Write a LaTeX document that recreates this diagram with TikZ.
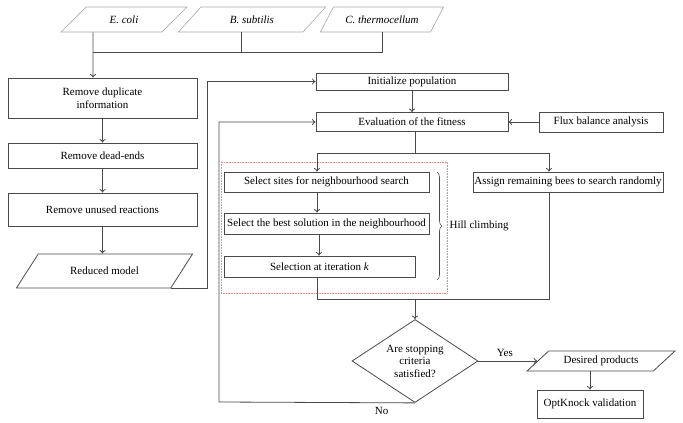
\documentclass[tikz,border=0pt]{standalone}
\usepackage{fontspec}
\setmainfont{Liberation Serif}
\usetikzlibrary{shapes.geometric,arrows.meta,decorations.pathreplacing}

\definecolor{linegray}{HTML}{4A4A4A}
\definecolor{lightline}{HTML}{A8A8A8}
\definecolor{dotred}{HTML}{E88A8A}

\tikzset{
  box/.style={draw=linegray, line width=0.8pt, rectangle, inner sep=1pt, align=center},
  datain/.style={draw=lightline, line width=0.6pt, trapezium, trapezium stretches=true,
    trapezium left angle=44, trapezium right angle=136, inner sep=1pt},
  dataout/.style={draw=linegray, line width=0.8pt, trapezium, trapezium stretches=true, inner sep=1pt},
  flow/.style={draw=linegray, line width=0.8pt, -{To[length=3.5pt,width=6pt]}},
  link/.style={draw=linegray, line width=0.8pt},
}

\begin{document}
\begin{tikzpicture}[x=1pt, y=-1pt, font=\fontsize{11pt}{12.5pt}\selectfont]
\useasboundingbox (0,0) rectangle (683,423);

% input organisms
\node[datain, minimum width=126pt, minimum height=25pt] (ecoli) at (124,19.5) {\textit{E. coli}};
\node[datain, minimum width=148pt, minimum height=25pt] (bsub) at (252,19.5) {\textit{B. subtilis}};
\node[datain, minimum width=124pt, minimum height=25pt] (cthermo) at (382,19.5) {\textit{C. thermocellum}};
\coordinate (trunk) at (93,52);

% model reduction
\node[box, minimum width=189pt, minimum height=40pt] (dup) at (102.5,98) {Remove duplicate\\information};
\node[box, minimum width=189pt, minimum height=25pt] (dead) at (102.5,155.5) {Remove dead-ends};
\node[box, minimum width=189pt, minimum height=33pt] (unused) at (102.5,209.5) {Remove unused reactions};
\node[dataout, minimum width=177pt, minimum height=34pt, trapezium left angle=40,
  trapezium right angle=140] (reduced) at (104.5,271) {Reduced model};

% bees algorithm
\node[box, minimum width=192pt, minimum height=17pt] (init) at (412,81.5) {Initialize population};
\node[box, minimum width=192pt, minimum height=19pt] (eval) at (412,122) {Evaluation of the fitness};
\node[box, minimum width=124pt, minimum height=20pt] (flux) at (601,122) {Flux balance analysis};
\node[box, minimum width=205pt, minimum height=20pt] (sites) at (326.5,182) {Select sites for neighbourhood search};
\node[box, minimum width=205pt, minimum height=21pt] (best) at (326.5,223.5) {Select the best solution in the neighbourhood};
\node[box, minimum width=191pt, minimum height=21pt] (seliter) at (319.5,266.5) {Selection at iteration \textit{k}};
\node[box, minimum width=190pt, minimum height=20pt] (assign) at (568,182) {Assign remaining bees to search randomly};
\node[diamond, draw=linegray, line width=0.8pt, aspect=1.5, inner sep=0pt, align=center,
  minimum width=126pt, minimum height=83pt] (check) at (415,361) {Are stopping\\criteria\\satisfied?};
\node[dataout, minimum width=148pt, minimum height=20pt, trapezium left angle=37,
  trapezium right angle=143] (desired) at (601,361) {Desired products};
\node[box, minimum width=106pt, minimum height=28pt] (optk) at (590,404) {OptKnock validation};

\coordinate (lane) at (317,153);
\coordinate (rlane) at (549,153);
\coordinate (merge) at (415,299);
\coordinate (back) at (219,402);
\coordinate (upline) at (207,0);

\draw[densely dotted, dotred, line width=0.6pt] (221,162) rectangle (447,293);

\draw[link] ([xshift=-11pt]bsub.south) |- (trunk);
\draw[link] (cthermo.south) |- (trunk);
\draw[flow] ([xshift=-31pt]ecoli.south) -- (dup.north -| trunk);
\draw[flow] (dup) -- (dead);
\draw[flow] (dead) -- (unused);
\draw[flow] (unused.south) -- (unused.south |- reduced.north);
\draw[flow] (reduced.bottom right corner) -- (reduced.bottom right corner -| upline) |- (init.west);
\draw[flow] (init) -- (eval);
\draw[flow] (flux) -- (eval);
\draw[link] (eval.south -| merge) |- (lane);
\draw[flow] (lane) -- (lane |- sites.north);
\draw[flow] (eval.south -| merge) |- (rlane) -- (rlane |- assign.north);
\draw[flow] (lane |- sites.south) -- (lane |- best.north);
\draw[flow] ([xshift=2pt]lane |- best.south) -- ([xshift=2pt]lane |- seliter.north);
\draw[link] (lane |- seliter.south) |- (rlane |- merge) -- (rlane |- assign.south);
\draw[flow] (merge) -- (check.north);
\draw[flow] (check.east) -- (check.east -| desired.west) node[pos=0.45, above=1pt] {Yes};
\draw[flow] (desired.south -| optk) -- (optk.north);
\draw[flow] (check.south) -- (back) node[pos=0.17, below=1pt] {No} |- (eval.west);

\draw[decorate, decoration={brace, amplitude=5pt}, line width=0.6pt, draw=linegray] (437,172) -- (437,280)
  node[midway, right=9pt] {Hill climbing};
\end{tikzpicture}
\end{document}
